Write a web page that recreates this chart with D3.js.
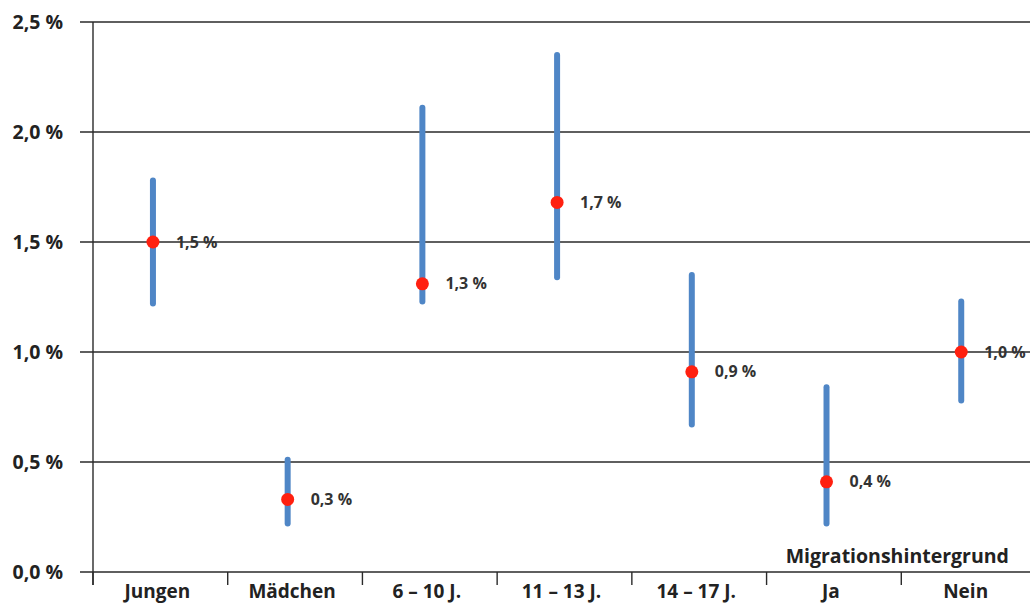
<!DOCTYPE html>
<html><head><meta charset="utf-8">
<script src="https://cdn.jsdelivr.net/npm/d3@7"></script>
<style>body{margin:0;background:#fff}svg{display:block}</style>
</head><body>
<svg id="c" width="1030" height="605"></svg>
<script>
const categories = ["Jungen","Mädchen","6 – 10 J.","11 – 13 J.","14 – 17 J.","Ja","Nein"];
const estimate = [1.50, 0.33, 1.31, 1.68, 0.91, 0.41, 1.00];
const lower = [1.22, 0.22, 1.23, 1.34, 0.67, 0.22, 0.78];
const upper = [1.78, 0.51, 2.11, 2.35, 1.35, 0.84, 1.23];
const pointLabels = ["1,5 %","0,3 %","1,3 %","1,7 %","0,9 %","0,4 %","1,0 %"];
const yTicks = [0, 0.5, 1.0, 1.5, 2.0, 2.5];
const yTickLabels = ["0,0 %","0,5 %","1,0 %","1,5 %","2,0 %","2,5 %"];
const groupLabel = "Migrationshintergrund";

const svg = d3.select("#c");
const mL = 93, mR = 1036, mT = 22, mB = 572;
const x = d3.scaleBand().domain(categories).range([mL, mR]);
const y = d3.scaleLinear().domain([0, 2.5]).range([mB, mT]);
const font = "'Open Sans', Lato, sans-serif";
const cx = d => x(d) + x.bandwidth() * 0.445;

// gridlines
svg.append("g").selectAll("line").data(yTicks).join("line")
  .attr("x1", mL - 13).attr("x2", 1030)
  .attr("y1", d => y(d)).attr("y2", d => y(d))
  .attr("stroke", "#2a2a2a").attr("stroke-width", 1.4);
// y axis line
svg.append("line").attr("x1", mL).attr("x2", mL).attr("y1", y(2.5)).attr("y2", mB + 13)
  .attr("stroke", "#2a2a2a").attr("stroke-width", 1.4);
// y labels
svg.append("g").selectAll("text").data(yTicks).join("text")
  .attr("x", 63).attr("y", d => y(d)).attr("dy", "0.35em")
  .attr("text-anchor", "end").attr("font-family", font).attr("font-weight", "bold")
  .attr("font-size", 19.5).attr("fill", "#222")
  .text((d, i) => yTickLabels[i]);
// x ticks
const tickPos = categories.map(c => x(c)).concat([mR]);
svg.append("g").selectAll("line").data(tickPos).join("line")
  .attr("x1", d => d).attr("x2", d => d).attr("y1", mB).attr("y2", mB + 13)
  .attr("stroke", "#2a2a2a").attr("stroke-width", 1.4);
// x labels
svg.append("g").selectAll("text").data(categories).join("text")
  .attr("x", d => x(d) + x.bandwidth() / 2 - 3).attr("y", 598)
  .attr("text-anchor", "middle").attr("font-family", font).attr("font-weight", "bold")
  .attr("font-size", 19).attr("fill", "#222").text(d => d);
// group label
svg.append("text").attr("x", x("Nein") - 4).attr("y", mB - 16).attr("dy", "0.35em")
  .attr("text-anchor", "middle").attr("font-family", font).attr("font-weight", "bold")
  .attr("font-size", 19.5).attr("fill", "#222").text(groupLabel);

// ranges
svg.append("g").selectAll("line").data(categories).join("line")
  .attr("x1", d => cx(d)).attr("x2", d => cx(d))
  .attr("y1", (d, i) => y(upper[i])).attr("y2", (d, i) => y(lower[i]))
  .attr("stroke", "#4f86c6").attr("stroke-width", 6).attr("stroke-linecap", "round");
// points
svg.append("g").selectAll("circle").data(categories).join("circle")
  .attr("cx", d => cx(d)).attr("cy", (d, i) => y(estimate[i])).attr("r", 6.5)
  .attr("fill", "#ff2010");
// point labels
svg.append("g").selectAll("text").data(categories).join("text")
  .attr("x", d => cx(d) + 23).attr("y", (d, i) => y(estimate[i])).attr("dy", "0.35em")
  .attr("font-family", font).attr("font-weight", "bold").attr("font-size", 16).attr("fill", "#333")
  .text((d, i) => pointLabels[i]);
</script>
</body></html>
